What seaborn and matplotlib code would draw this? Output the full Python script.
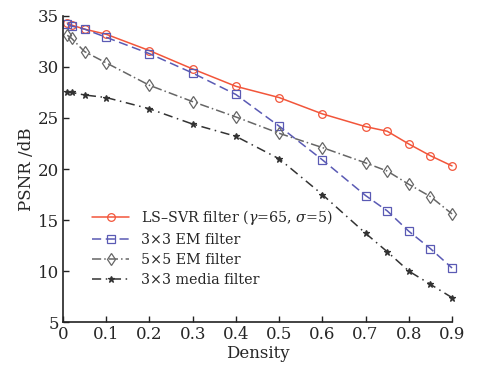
import pandas as pd
import seaborn as sns
import matplotlib.pyplot as plt

sns.set_theme(style="white")
plt.rcParams['font.family'] = ['DejaVu Serif']
plt.rcParams['mathtext.fontset'] = 'dejavuserif'

density = [0.01, 0.02, 0.05, 0.1, 0.2, 0.3, 0.4, 0.5, 0.6, 0.7, 0.75, 0.8, 0.85, 0.9]
ls_svr = [34.3, 34.1, 33.7, 33.2, 31.6, 29.8, 28.1, 27.0, 25.4, 24.15, 23.7, 22.45, 21.3, 20.3]
em3 = [34.2, 34.0, 33.7, 32.9, 31.3, 29.4, 27.3, 24.2, 20.9, 17.4, 15.9, 13.9, 12.2, 10.3]
em5 = [33.1, 32.8, 31.5, 30.4, 28.2, 26.6, 25.1, 23.5, 22.1, 20.6, 19.8, 18.5, 17.3, 15.6]
median3 = [27.5, 27.5, 27.25, 27.0, 25.9, 24.4, 23.2, 21.0, 17.5, 13.7, 11.9, 10.0, 8.7, 7.4]

labels = ["LS\u2013SVR filter ($\\gamma$=65, $\\sigma$=5)", "3\u00d73 EM filter",
          "5\u00d75 EM filter", "3\u00d73 media filter"]

fig = plt.figure(figsize=(4.84, 3.69), dpi=100)
ax = fig.add_axes([0.130, 0.127, 0.804, 0.830])

# series styles
styles = [
    dict(color="#f2553a", marker="o", linestyle="-", markerfacecolor="none", markersize=5.5),
    dict(color="#5a5ab4", marker="s", linestyle=(0, (6, 3)), markerfacecolor="none", markersize=5.3),
    dict(color="#666666", marker="d", linestyle=(0, (6, 2, 1, 2)), markerfacecolor="none", markersize=6),
    dict(color="#333333", marker="*", linestyle=(0, (6, 3, 1, 3)), markerfacecolor="#333333", markersize=5),
]
for vals, lab, st in zip([ls_svr, em3, em5, median3], labels, styles):
    df = pd.DataFrame({"Density": density, "PSNR": vals})
    sns.lineplot(data=df, x="Density", y="PSNR", ax=ax, label=lab, linewidth=1.1,
                 markeredgewidth=0.9, markeredgecolor=st["color"], clip_on=False, **st)

ax.set_xlim(0, 0.9)
ax.set_ylim(5, 35)
ax.set_xticks([0, 0.1, 0.2, 0.3, 0.4, 0.5, 0.6, 0.7, 0.8, 0.9])
ax.set_xticklabels(["0", "0.1", "0.2", "0.3", "0.4", "0.5", "0.6", "0.7", "0.8", "0.9"])
ax.set_yticks([5, 10, 15, 20, 25, 30, 35])
ax.tick_params(direction="in", length=4, width=1, labelsize=12, pad=3,
               bottom=True, left=True, color="#222222")
ax.set_xlabel("Density", fontsize=12, labelpad=1)
ax.set_ylabel("PSNR /dB", fontsize=12, labelpad=2)
for s in ["top", "right"]:
    ax.spines[s].set_visible(False)
for s in ["left", "bottom"]:
    ax.spines[s].set_color("#222222")
    ax.spines[s].set_linewidth(1.2)
ax.grid(False)
ax.legend(loc="upper left", bbox_to_anchor=(0.06, 0.39), frameon=False,
          fontsize=10.3, handlelength=2.6, labelspacing=0.42, borderaxespad=0)

fig.savefig("out.png", dpi=100, facecolor="white")
